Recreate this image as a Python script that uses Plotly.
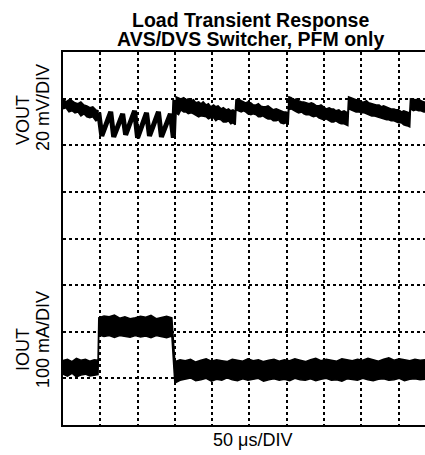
import plotly.graph_objects as go

# ---------------- data (time in µs, VOUT in mV deviation, IOUT in mA) ----------------
US_PER_DIV = 50
MV_PER_DIV = 20
MA_PER_DIV = 100

# VOUT before load step (noisy band: upper / lower envelope)
vA_t = [0, 4, 8, 12, 16, 20, 24, 28, 32, 36, 40, 44, 47]
vA_hi = [19.9, 18.6, 19.5, 19.1, 18.2, 17.8, 18.6, 17.3, 16.9, 16.1, 16.5, 15.2, 14.8]
vA_lo = [15.6, 16.1, 14.3, 14.8, 13.9, 14.3, 12.6, 13.5, 12.2, 11.8, 12.2, 10.5, 10.9]

# VOUT PFM ripple during load pulse
vS_t = [48, 52, 64, 68, 80, 84, 96, 100, 112, 116, 128, 132, 144, 148, 150]
vS_v = [13.9, 4.0, 14.3, 3.6, 13.5, 4.5, 14.8, 3.2, 13.9, 4.0, 14.3, 3.6, 13.5, 3.2, 19.5]

# VOUT after load release (light-load PFM bursts)
vB_t = [151, 155, 158, 162, 165, 168, 172, 175, 178, 182, 185, 188, 192, 195, 198, 202, 205,
        208, 212, 215, 219, 222, 225, 228, 231,
        232, 235, 239, 242, 245, 248, 252, 255, 259, 262, 265, 268, 272, 275, 279, 282,
        286, 289, 292, 296, 299, 302,
        303, 306, 310, 313, 316, 320, 323, 326, 330, 333, 336, 340, 343, 346, 350, 353,
        357, 360, 363, 366, 370, 373, 377, 380, 382,
        383, 386, 390, 393, 397, 400, 404, 407, 410, 414, 417, 420, 424, 427, 430, 434,
        437, 440, 444, 447, 450, 454, 457, 461, 465,
        466, 470, 473, 477, 480, 484, 487]
vB_hi = [20.8, 20.4, 19.9, 20.4, 19.5, 19.9, 19.1, 19.5, 18.2, 18.6, 17.8, 18.6, 17.3, 17.8, 16.5, 17.3, 16.5,
         16.9, 15.6, 16.1, 15.2, 15.6, 14.8, 15.2, 14.3,
         19.5, 19.9, 19.1, 18.6, 18.2, 18.6, 18.2, 17.3, 17.3, 17.8, 16.9, 16.5, 16.5, 16.9, 16.1, 15.2,
         15.6, 15.2, 14.8, 14.3, 14.3, 13.9,
         20.8, 20.4, 19.5, 19.9, 19.1, 18.6, 18.6, 18.2, 17.8, 18.2, 17.8, 16.9, 16.9, 17.3, 16.5, 15.6,
         16.1, 15.6, 15.6, 14.8, 15.2, 14.3, 14.8, 14.3, 13.9,
         20.8, 20.4, 19.9, 19.5, 19.5, 18.6, 18.6, 19.1, 18.2, 17.8, 17.8, 17.3, 17.3, 16.5, 16.9, 16.5,
         16.1, 15.6, 15.6, 15.2, 15.2, 14.3, 14.8, 14.3, 13.9,
         19.9, 19.5, 19.5, 19.9, 19.1, 18.6, 18.6]
vB_lo = [13.9, 13.1, 15.2, 14.3, 14.3, 13.5, 13.9, 13.5, 13.1, 12.2, 12.6, 12.6, 12.2, 11.3, 11.8, 11.8, 10.5,
         11.3, 10.9, 10.0, 10.0, 10.5, 9.2, 9.6, 8.8,
         15.2, 14.8, 14.3, 14.8, 14.3, 13.5, 13.1, 13.5, 13.1, 12.2, 12.2, 12.6, 11.8, 11.3, 11.3, 10.5,
         10.5, 10.9, 9.6, 9.2, 9.6, 8.8,
         15.2, 15.6, 14.8, 14.3, 13.9, 14.3, 13.5, 13.1, 13.1, 12.6, 12.2, 12.6, 11.8, 11.3, 10.9, 11.3,
         10.5, 10.0, 10.0, 10.5, 9.6, 9.2, 9.2, 8.8, 8.4,
         15.6, 15.2, 14.8, 14.3, 14.3, 13.9, 13.9, 13.5, 13.1, 12.6, 12.6, 12.2, 11.8, 11.8, 11.3, 10.9,
         10.9, 10.5, 10.5, 10.0, 9.6, 9.6, 8.8, 8.4, 7.9,
         15.6, 14.8, 15.2, 14.8, 14.8, 14.3, 14.3]

# IOUT (mA) band
i_t = [0, 6, 12, 18, 24, 30, 36, 42, 47,
       48, 55, 62, 69, 76, 83, 90, 97, 104, 111, 118, 125, 132, 139, 146,
       150, 157, 164, 171, 178, 185, 192, 199, 206, 213, 220, 227, 234, 241, 248,
       255, 262, 269, 276, 283, 290, 297, 304, 311, 318, 325, 332, 339, 346, 353,
       360, 367, 374, 381, 388, 395, 402, 409, 416, 423, 430, 437, 444, 451, 458,
       465, 472, 479, 486]
i_hi = [38, 41, 36, 43, 39, 41, 37, 40, 39,
        130, 134, 132, 136, 129, 132, 128, 130, 133, 131, 135, 128, 131, 133, 130,
        36, 40, 38, 41, 35, 39, 42, 37, 40, 38, 36, 41, 39, 37, 42,
        38, 40, 36, 39, 41, 37, 40, 38, 42, 39, 36, 40, 43, 38, 41,
        39, 37, 42, 40, 38, 41, 39, 43, 40, 37, 41, 44, 39, 42, 40,
        38, 41, 39, 40]
i_lo = [9, 5, 11, 3, 7, 9, 5, 7, 8,
        93, 90, 92, 88, 92, 90, 88, 92, 89, 91, 87, 92, 89, 87, 91,
        -10, -4, -2, 1, -5, -3, 0, -6, -2, -4, 1, -3, -5, -1, -4,
        -2, 0, -6, -3, -1, -4, -2, -5, 0, -3, -4, -1, -5, -2, 0,
        -4, -3, -6, -1, -2, -4, 0, -3, -5, -2, -1, -4, -3, 0, -5,
        -2, -1, -3, -2]

# ---------------- scaling to screen divisions ----------------
V_ZERO_DIV = 6   # VOUT reference sits on the 6th division line
I_ZERO_DIV = 1   # IOUT zero on the 1st division line


def vdiv(vals):
    return [V_ZERO_DIV + v / MV_PER_DIV for v in vals]


def idiv(vals):
    return [I_ZERO_DIV + v / MA_PER_DIV for v in vals]


def band(t, hi, lo):
    return t + t[::-1], hi + lo[::-1]


fig = go.Figure()
black = "black"

for t, hi, lo, f in [(vA_t, vA_hi, vA_lo, vdiv), (vB_t, vB_hi, vB_lo, vdiv), (i_t, i_hi, i_lo, idiv)]:
    xs, ys = band(t, hi, lo)
    fig.add_trace(go.Scatter(x=xs, y=f(ys), fill="toself", mode="lines",
                             line=dict(color=black, width=1.5), fillcolor=black,
                             hoverinfo="skip", showlegend=False))

fig.add_trace(go.Scatter(x=vS_t, y=vdiv(vS_v), mode="lines",
                         line=dict(color=black, width=5), showlegend=False))

W, H = 425, 455
L, T, B = 63, 52, 30
PW, PH = W - L, H - T - B

fig.update_layout(
    width=W, height=H,
    margin=dict(l=L, r=0, t=T, b=B, pad=0),
    paper_bgcolor="white", plot_bgcolor="white",
    showlegend=False,
    font=dict(family="Liberation Sans, Arial, sans-serif", color=black),
    xaxis=dict(range=[0, 485.5], tickvals=[US_PER_DIV * k for k in range(1, 10)],
               showticklabels=False, ticks="", showgrid=True, gridcolor=black,
               griddash="dot", gridwidth=1.5, zeroline=False,
               showline=True, linecolor=black, linewidth=2, mirror=True),
    yaxis=dict(range=[0, 8], tickvals=list(range(1, 8)), showticklabels=False, ticks="",
               showgrid=True, gridcolor=black, griddash="dot", gridwidth=1.5,
               zeroline=False, showline=True, linecolor=black, linewidth=2),
)

ann = [
    dict(text="<b>Load Transient Response</b>", x=250.5, y=19.5, size=19.5, angle=0),
    dict(text="<b>AVS/DVS Switcher, PFM only</b>", x=250.5, y=38.5, size=19.5, angle=0),
    dict(text="VOUT", x=23, y=120, size=18, angle=-90),
    dict(text="20 mV/DIV", x=43, y=108, size=18, angle=-90),
    dict(text="IOUT", x=23, y=350, size=18, angle=-90),
    dict(text="100 mA/DIV", x=43, y=340, size=18, angle=-90),
    dict(text="50 μs/DIV", x=252, y=440, size=18, angle=0),
]
for a in ann:
    fig.add_annotation(text=a["text"], xref="paper", yref="paper",
                       x=(a["x"] - L) / PW, y=(H - B - a["y"]) / PH,
                       xanchor="center", yanchor="middle",
                       showarrow=False, textangle=a["angle"],
                       font=dict(size=a["size"], color=black))

fig.write_html("out.html", config={"displayModeBar": False},
               post_script="document.body.style.margin='0';document.body.style.overflow='hidden';")
